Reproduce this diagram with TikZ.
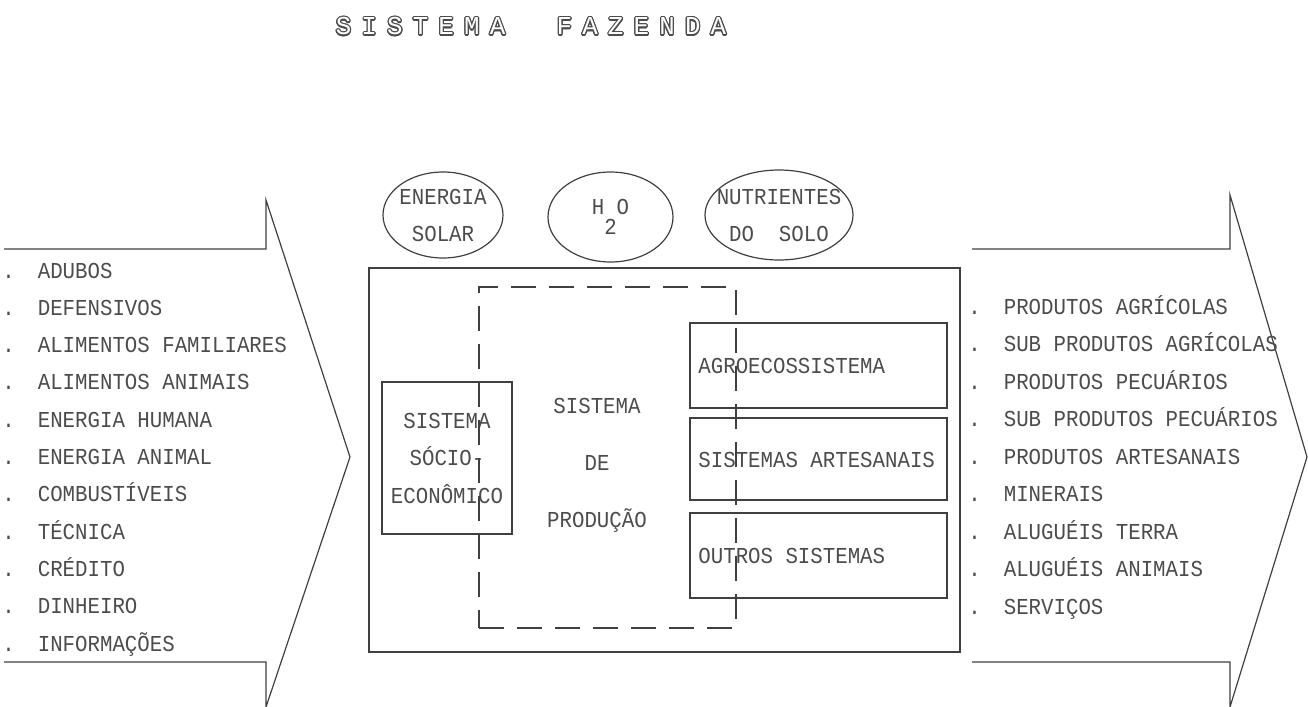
\documentclass[tikz,border=0pt]{standalone}
\usepackage{fontspec}
\usepackage{contour}
\usetikzlibrary{shapes.geometric}
\newfontfamily\mono[FakeStretch=0.91]{Liberation Mono}
\newfontfamily\titulo[LetterSpace=39.5]{Liberation Mono}
\contourlength{0.6pt}
\newcommand{\ponto}[1]{.\hspace{11.5pt}#1}
\begin{document}
\begin{tikzpicture}[x=0.5pt,y=-0.5pt]
		\tikzset{linha/.style={line width=0.6pt, draw=black!75},
			caixa/.style={rectangle, linha, inner sep=0pt, text=black!70, font=\mono\fontsize{11.4}{18.75}\selectfont},
			rotulo/.style={anchor=west, inner sep=0pt, text=black!70, font=\mono\fontsize{11.4}{14}\selectfont},
			bolha/.style={ellipse, linha, inner sep=-8pt, align=center, text=black!70, font=\mono\fontsize{11.4}{18.5}\selectfont},
			lista/.style={anchor=base west, inner sep=0pt, text=black!70, font=\mono\fontsize{11.4}{14}\selectfont}}
		\useasboundingbox (0,0) rectangle (1308,707);

        \node at (531, 27) (tit) {\titulo\fontsize{12.9}{16}\selectfont\contour{black!70}{\color{white}SISTEMA~~FAZENDA}};

        % entradas
        \draw[linha] (4,249) -| (266,200) -- (350,457) -- (266,707) -- (266,662) -- (4,662);
        \node[lista] at (2, 278.0) (e1) {\ponto{ADUBOS}};
        \node[lista] at (2, 315.3) (e2) {\ponto{DEFENSIVOS}};
        \node[lista] at (2, 352.6) (e3) {\ponto{ALIMENTOS FAMILIARES}};
        \node[lista] at (2, 389.9) (e4) {\ponto{ALIMENTOS ANIMAIS}};
        \node[lista] at (2, 427.2) (e5) {\ponto{ENERGIA HUMANA}};
        \node[lista] at (2, 464.5) (e6) {\ponto{ENERGIA ANIMAL}};
        \node[lista] at (2, 501.8) (e7) {\ponto{COMBUSTÍVEIS}};
        \node[lista] at (2, 539.1) (e8) {\ponto{TÉCNICA}};
        \node[lista] at (2, 576.4) (e9) {\ponto{CRÉDITO}};
        \node[lista] at (2, 613.7) (e10) {\ponto{DINHEIRO}};
        \node[lista] at (2, 651.0) (e11) {\ponto{INFORMAÇÕES}};

        % saidas
        \draw[linha] (972,249) -| (1230,195) -- (1307,457) -- (1230,707) -- (1230,662) -- (972,662);
        \node[lista] at (968, 314.0) (s1) {\ponto{PRODUTOS AGRÍCOLAS}};
        \node[lista] at (968, 351.5) (s2) {\ponto{SUB PRODUTOS AGRÍCOLAS}};
        \node[lista] at (968, 389.0) (s3) {\ponto{PRODUTOS PECUÁRIOS}};
        \node[lista] at (968, 426.5) (s4) {\ponto{SUB PRODUTOS PECUÁRIOS}};
        \node[lista] at (968, 464.0) (s5) {\ponto{PRODUTOS ARTESANAIS}};
        \node[lista] at (968, 501.5) (s6) {\ponto{MINERAIS}};
        \node[lista] at (968, 539.0) (s7) {\ponto{ALUGUÉIS TERRA}};
        \node[lista] at (968, 576.5) (s8) {\ponto{ALUGUÉIS ANIMAIS}};
        \node[lista] at (968, 614.0) (s9) {\ponto{SERVIÇOS}};

        \node[bolha, minimum width=60pt, minimum height=43pt] at (443, 215) (solar) {ENERGIA\\SOLAR};
        \node[bolha, minimum width=62.5pt, minimum height=45pt] at (610.5, 217) (agua) {H O\\[-8.5pt]\phantom{H}2\phantom{O}};
        \node[bolha, minimum width=74pt, minimum height=45pt] at (779, 215) (solo) {NUTRIENTES\\DO~~SOLO};

        \node[caixa, minimum width=295.5pt, minimum height=192pt] at (664.5, 460) (fazenda) {};
        \node[caixa, minimum width=65pt, minimum height=76pt, align=center] at (447, 458) (socio) {SISTEMA\\SÓCIO-\\ECONÔMICO};
        \node[caixa, minimum width=128.5pt, minimum height=42.5pt] at (818.5, 365.5) (agro) {};
        \node[caixa, minimum width=128.5pt, minimum height=41pt] at (818.5, 459) (artes) {};
        \node[caixa, minimum width=128.5pt, minimum height=42.5pt] at (818.5, 555.5) (outros) {};
        \node[rotulo] at (698, 366) (agroT) {AGROECOSSISTEMA};
        \node[rotulo] at (698, 460) (artesT) {SISTEMAS ARTESANAIS};
        \node[rotulo] at (698, 556) (outrosT) {OUTROS SISTEMAS};

        \node[caixa, draw=none, align=center, font=\mono\fontsize{11.4}{28.5}\selectfont] at (597, 465) (prodT) {SISTEMA\\DE\\PRODUÇÃO};
        \node[caixa, dash pattern=on 12.5pt off 6.5pt, minimum width=128.5pt, minimum height=170.5pt] at (607.5, 457.5) (producao) {};

\end{tikzpicture}
\end{document}
